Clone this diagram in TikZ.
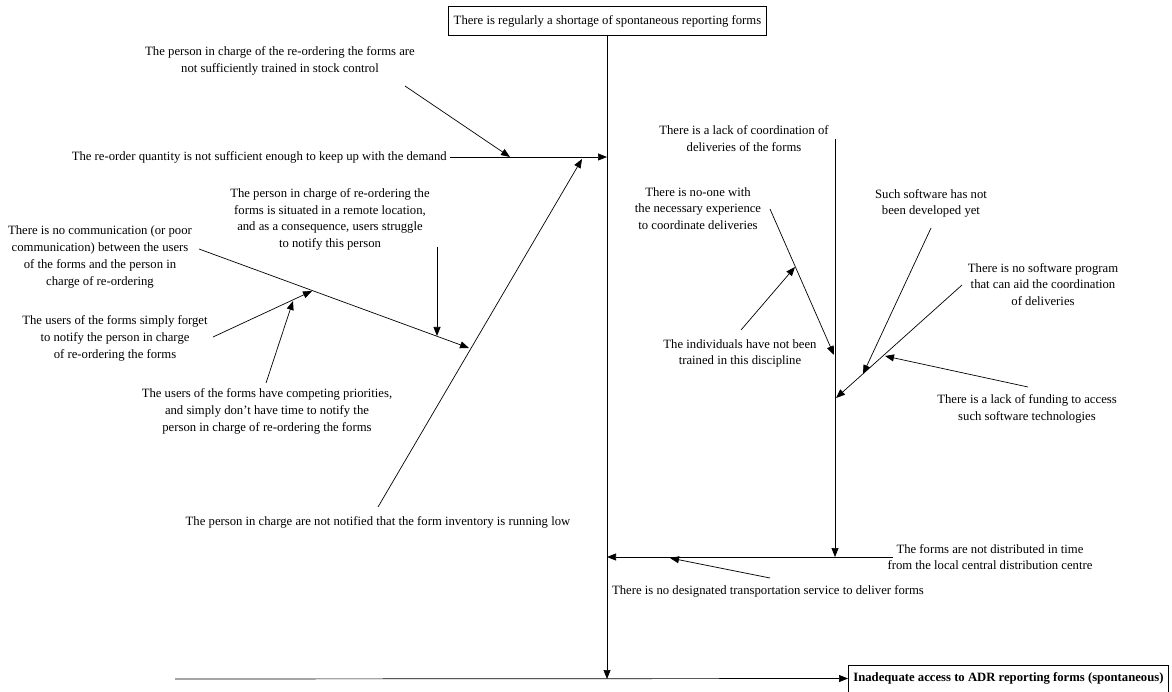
\documentclass[tikz,border=0pt]{standalone}
\usepackage{fontspec}
\setmainfont{Liberation Serif}
\usetikzlibrary{arrows.meta}
\begin{document}
\begin{tikzpicture}[x=1pt,y=-1pt,
  lbl/.style={font=\fontsize{12.7}{16.8}\selectfont, align=center, inner sep=0pt},
  ln/.style={line width=0.7pt},
  arr/.style={ln, -{Triangle[length=9pt,width=7pt]}},
  box/.style={draw, line width=0.7pt, inner xsep=5pt, inner ysep=0pt, minimum height=29pt, font=\fontsize{12.7}{15}\selectfont}]
\useasboundingbox (0,0) rectangle (1172,692);

% head and spine
\node[box] (top) at (607.5,21) {There is regularly a shortage of spontaneous reporting forms};
\coordinate (spineEnd) at (607,679);
\draw[arr] (top.south -| spineEnd) -- (spineEnd);
\coordinate (tail) at (175,679);
\node[box, anchor=west, minimum height=27pt, font=\fontsize{12.7}{15}\selectfont\bfseries] (effect) at (848,678.5) {Inadequate access to ADR reporting forms (spontaneous)};
\draw[arr] (tail) -- (effect.west);

% branch 1
\node[lbl, anchor=east] (c1) at (447,157) {The re-order quantity is not sufficient enough to keep up with the demand};
\coordinate (j1) at (607,157);
\draw[arr] ([xshift=3pt]c1.east) -- (j1);
\node[lbl] (c1a) at (280,61) {The person in charge of the re-ordering the forms are\\not sufficiently trained in stock control};
\coordinate (c1aS) at (405,86);
\coordinate (c1aE) at (510,157);
\draw[arr] (c1aS) -- (c1aE);

% branch 2
\node[lbl] (c2) at (378,522) {The person in charge are not notified that the form inventory is running low};
\coordinate (c2S) at (378,507);
\coordinate (c2E) at (582,159);
\draw[arr] (c2S) -- (c2E);

\node[lbl] (c2a) at (100,257) {There is no communication (or poor\\communication) between the users\\of the forms and the person in\\charge of re-ordering};
\coordinate (c2aS) at (199,249);
\coordinate (c2aE) at (469,348);
\draw[arr] (c2aS) -- (c2aE);

\node[lbl] (c2ai) at (330,219.5) {The person in charge of re-ordering the\\forms is situated in a remote location,\\and as a consequence, users struggle\\to notify this person};
\coordinate (c2aiS) at (437,247);
\coordinate (c2aiE) at (437,336);
\draw[arr] (c2aiS) -- (c2aiE);

\node[lbl] (c2aii) at (115,338.5) {The users of the forms simply forget\\to notify the person in charge\\of re-ordering the forms};
\coordinate (c2aiiS) at (213,337);
\coordinate (c2aiiE) at (312,291);
\draw[arr] (c2aiiS) -- (c2aiiE);

\node[lbl] (c2aiii) at (267,411.5) {The users of the forms have competing priorities,\\and simply don't have time to notify the\\person in charge of re-ordering the forms};
\coordinate (c2aiiiS) at (266,383);
\coordinate (c2aiiiE) at (293,301);
\draw[arr] (c2aiiiS) -- (c2aiiiE);

% branch 3
\node[lbl] (c3) at (744,138.5) {There is a lack of coordination of\\deliveries of the forms};
\coordinate (c3S) at (835,139);
\coordinate (c3E) at (835,557);
\draw[arr] (c3S) -- (c3E);

\node[lbl] (c3a) at (698,208.5) {There is no-one with\\the necessary experience\\to coordinate deliveries};
\coordinate (c3aS) at (770,209);
\coordinate (c3aE) at (834,355);
\draw[arr] (c3aS) -- (c3aE);

\node[lbl] (c3ai) at (740,353.5) {The individuals have not been\\trained in this discipline};
\coordinate (c3aiS) at (741,330);
\coordinate (c3aiE) at (795,267);
\draw[arr] (c3aiS) -- (c3aiE);

\node[lbl] (c3b) at (1043,284.5) {There is no software program\\that can aid the coordination\\of deliveries};
\coordinate (c3bS) at (962,285);
\coordinate (c3bE) at (836,398);
\draw[arr] (c3bS) -- (c3bE);

\node[lbl] (c3bi) at (931,203.5) {Such software has not\\been developed yet};
\coordinate (c3biS) at (931,228);
\coordinate (c3biE) at (863,374);
\draw[arr] (c3biS) -- (c3biE);

\node[lbl] (c3bii) at (1027,408.5) {There is a lack of funding to access\\such software technologies};
\coordinate (c3biiS) at (1028,387);
\coordinate (c3biiE) at (885,356);
\draw[arr] (c3biiS) -- (c3biiE);

% branch 4
\node[lbl] (c4) at (990,557) {The forms are not distributed in time\\from the local central distribution centre};
\coordinate (c4S) at (893,557);
\coordinate (c4E) at (607,557);
\draw[arr] (c4S) -- (c4E);

\node[lbl] (c4a) at (768,591) {There is no designated transportation service to deliver forms};
\coordinate (c4aS) at (770,578);
\coordinate (c4aE) at (670,558);
\draw[arr] (c4aS) -- (c4aE);
\end{tikzpicture}
\end{document}
